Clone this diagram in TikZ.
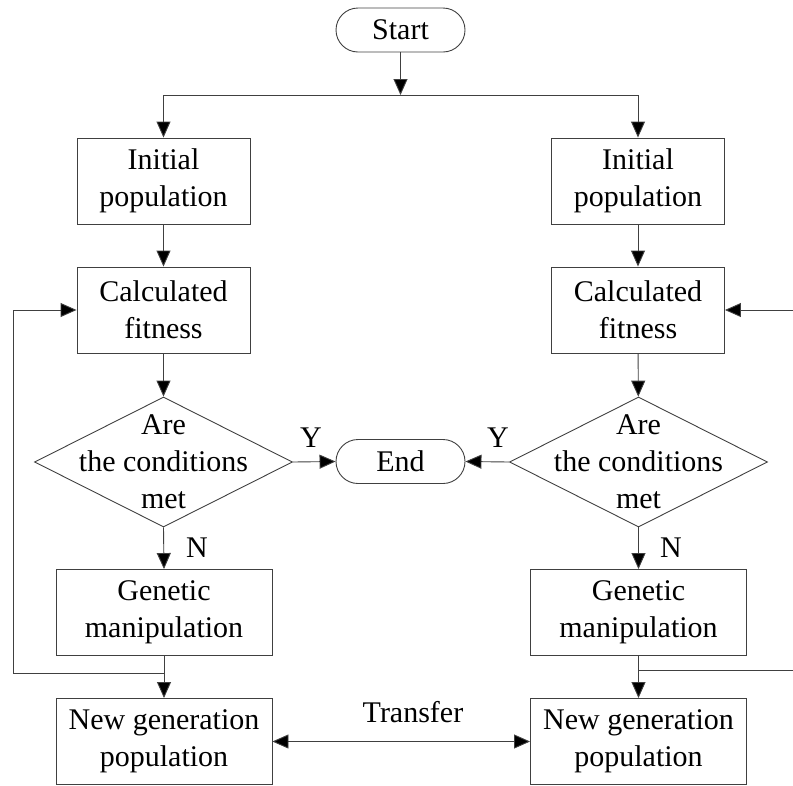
\documentclass[tikz,border=0pt]{standalone}
\usepackage{fontspec}
\setmainfont{Liberation Serif}
\usetikzlibrary{shapes.geometric,shapes.misc,arrows.meta}

\tikzset{
  every node/.style={font=\fontsize{30}{37}\selectfont},
  proc/.style={draw=black!75, line width=0.9pt, rectangle, align=center, minimum width=173pt, minimum height=86pt, inner sep=0pt},
  wideproc/.style={proc, minimum width=216pt},
  term/.style={draw=black!75, line width=0.9pt, rounded rectangle, minimum width=129pt, minimum height=44pt, inner sep=0pt},
  decide/.style={draw=black!75, line width=0.9pt, diamond, minimum width=258pt, minimum height=130pt, inner sep=0pt},
  arr/.style={draw=black!75, line width=0.9pt, -{Triangle[length=16pt,width=14pt,fill=black]}},
  darr/.style={draw=black!75, line width=0.9pt, {Triangle[length=16pt,width=14pt,fill=black]}-{Triangle[length=16pt,width=14pt,fill=black]}},
  line/.style={draw=black!75, line width=0.9pt}
}

\begin{document}
\begin{tikzpicture}[x=1pt, y=-1pt]
\useasboundingbox (0,0) rectangle (793,785);

\node[term] (start) at (400.5,30) {Start};
\coordinate (fork) at (400.5,95);
\coordinate (forkL) at (163.5,95);
\coordinate (forkR) at (638,95);

\node[proc] (initL) at (163.5,181) {Initial\\population};
\node[proc] (initR) at (638,181) {Initial\\population};
\node[proc] (calcL) at (163.5,310) {Calculated\\fitness};
\node[proc] (calcR) at (638,310) {Calculated\\fitness};
\node[decide, label={[align=center]center:Are\\the conditions\\met}] (condL) at (163.5,462) {};
\node[decide, label={[align=center]center:Are\\the conditions\\met}] (condR) at (638.5,462) {};
\node[term] (end) at (400.5,461.5) {End};
\node[wideproc] (genL) at (164,612.5) {Genetic\\manipulation};
\node[wideproc] (genR) at (638.5,612.5) {Genetic\\manipulation};
\node[wideproc] (newL) at (164,741.5) {New generation\\population};
\node[wideproc] (newR) at (638.5,741.5) {New generation\\population};

\draw[arr] (start) -- (fork);
\draw[line] (forkL) -- (forkR);
\draw[arr] (forkL) -- (initL);
\draw[arr] (forkR) -- (initR);
\draw[arr] (initL) -- (calcL);
\draw[arr] (initR) -- (calcR);
\draw[arr] (calcL) -- (condL);
\draw[arr] (calcR) -- (condR);

\node (yL) at (311,438) {Y};
\node (yR) at (498,438) {Y};
\draw[arr] (condL.east) -- (end.west);
\draw[arr] (condR.west) -- (end.east);

\node (nL) at (197,548) {N};
\node (nR) at (671,548) {N};
\draw[arr] (condL.south) -- (genL.north);
\draw[arr] (condR.south) -- (genR.north);
\draw[arr] (genL) -- (newL);
\draw[arr] (genR) -- (newR);

% loop back
\coordinate (backL) at (164,673);
\coordinate (edgeL) at (13,673);
\draw[arr] (backL) -- (edgeL) |- (calcL.west);
\coordinate (backR) at (638.5,670);
\coordinate (edgeR) at (793,670);
\coordinate (inR) at (793,310);
\draw[line] (backR) -- (edgeR);
\draw[arr] (inR) -- (calcR.east);

\draw[darr] (newL.east) -- (newR.west);
\node (transfer) at (413,712) {Transfer};

\end{tikzpicture}
\end{document}
